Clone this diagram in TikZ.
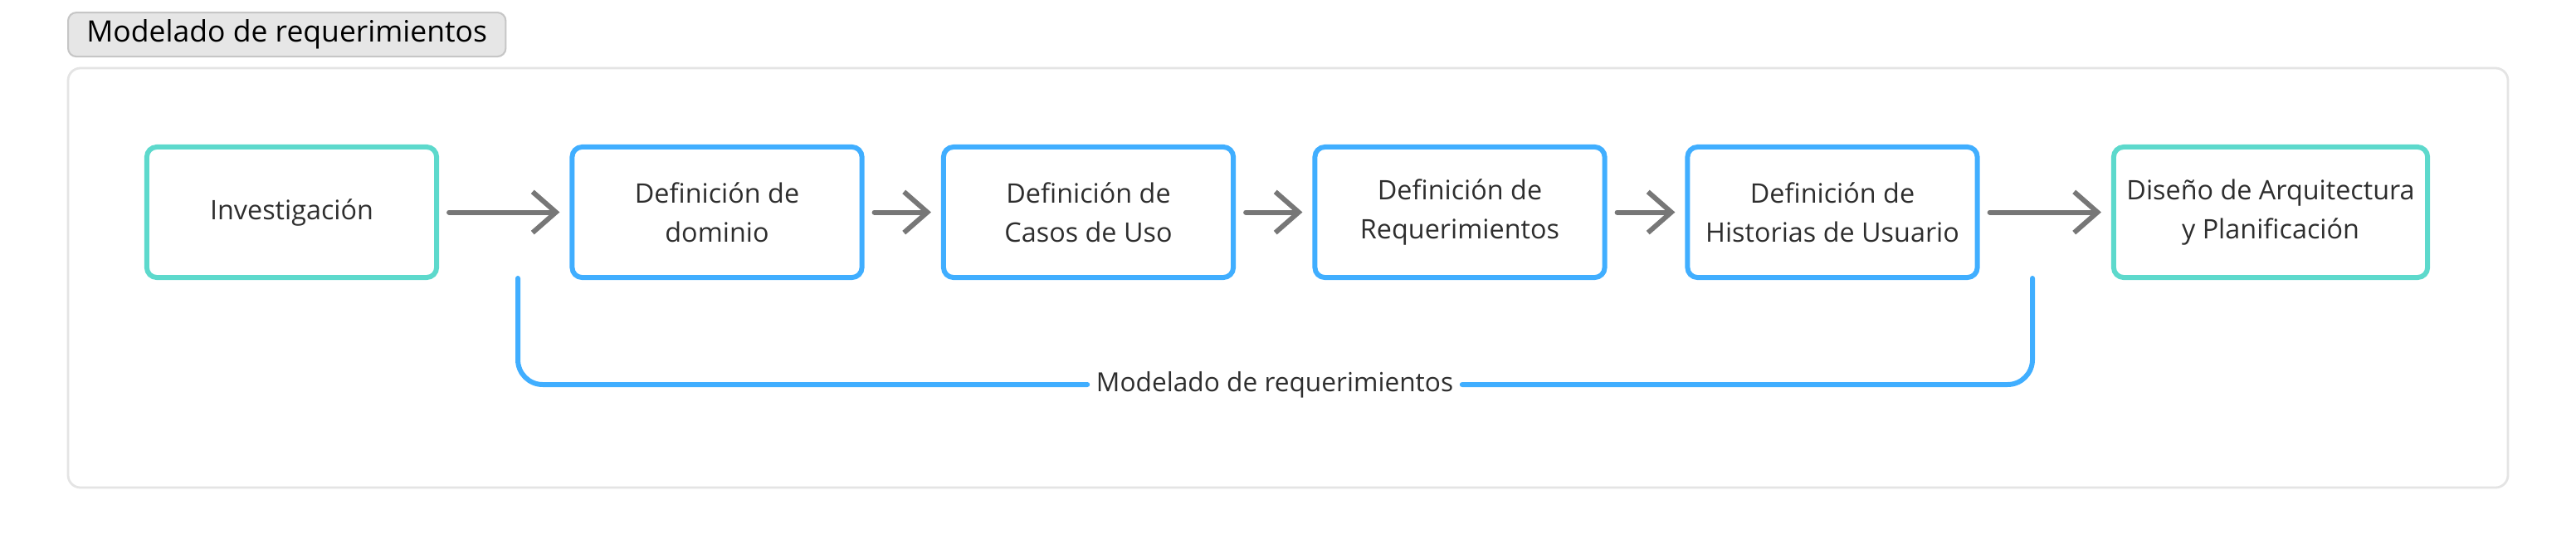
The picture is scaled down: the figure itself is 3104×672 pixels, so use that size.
\documentclass[tikz,border=0pt]{standalone}
\usepackage{fontspec}
\setmainfont{Open Sans}
\usetikzlibrary{arrows.meta}
\usepackage{xcolor}

\begin{document}
\begin{tikzpicture}[x=0.01cm,y=-0.01cm,>={Straight Barb[length=8pt,width=14pt]}]

% colors
\definecolor{stepBlue}{HTML}{40AEFF}
\definecolor{stepTeal}{HTML}{5DD9CC}
\definecolor{arrowGray}{HTML}{777777}
\definecolor{frameGray}{HTML}{E4E4E4}
\definecolor{titleFill}{HTML}{E6E6E6}
\definecolor{titleBorder}{HTML}{C6C6C6}
\definecolor{textDark}{HTML}{2E2E2E}

% styles
\tikzset{
    stepbox/.style={draw=stepBlue, line width=1.7pt, rounded corners=0.12cm,
        minimum width=3.49cm, minimum height=1.57cm, align=center,
        text=textDark, font=\fontsize{9.2}{13.5}\selectfont},
    endbox/.style={stepbox, draw=stepTeal},
    flow/.style={->, arrowGray, line width=1.7pt, line cap=round,
        shorten <=0.12cm, shorten >=0.12cm},
}

% canvas
\useasboundingbox (0,0) rectangle (3104,672);

% header tab
\node[draw=titleBorder, fill=titleFill, line width=0.6pt, rounded corners=0.1cm,
    anchor=north west, minimum height=0.53cm, minimum width=5.27cm, inner sep=0pt,
    text=black, font=\fontsize{10.1}{12}\selectfont] (title) at (81,14)
    {Modelado de requerimientos};

% outer frame
\draw[frameGray, line width=0.8pt, rounded corners=0.15cm] (82,82) rectangle (3022,587);

% process steps
\node[endbox] (inv) at (351.5,255.5) {Investigación};
\node[stepbox] (dom) at (864,255.5) {Definición de\\dominio};
\node[stepbox] (casos) at (1311.5,255.5) {Definición de\\Casos de Uso};
\node[stepbox] (req) at (1759,255.5) {Definición de\\Requerimientos};
\node[stepbox] (hist) at (2208,255.5) {Definición de\\Historias de Usuario};
\node[endbox, minimum width=3.78cm] (dis) at (2736,255.5) {Diseño de Arquitectura\\y Planificación};

% flow arrows
\draw[flow] (inv) -- (dom);
\draw[flow] (dom) -- (casos);
\draw[flow] (casos) -- (req);
\draw[flow] (req) -- (hist);
\draw[flow] (hist) -- (dis);

% bracket under the modelling steps
\coordinate (bracketLeft) at (624,335);
\coordinate (bracketRight) at (2449,335);
\node[fill=white, inner xsep=0.1cm, text=textDark, font=\fontsize{9}{11}\selectfont] (brLabel) at (1536,463) {Modelado de requerimientos};
\draw[stepBlue, line width=1.7pt, line cap=round, rounded corners=0.3cm]
    (bracketLeft) |- (brLabel.west);
\draw[stepBlue, line width=1.7pt, line cap=round, rounded corners=0.3cm]
    (bracketRight) |- (brLabel.east);

\end{tikzpicture}
\end{document}
